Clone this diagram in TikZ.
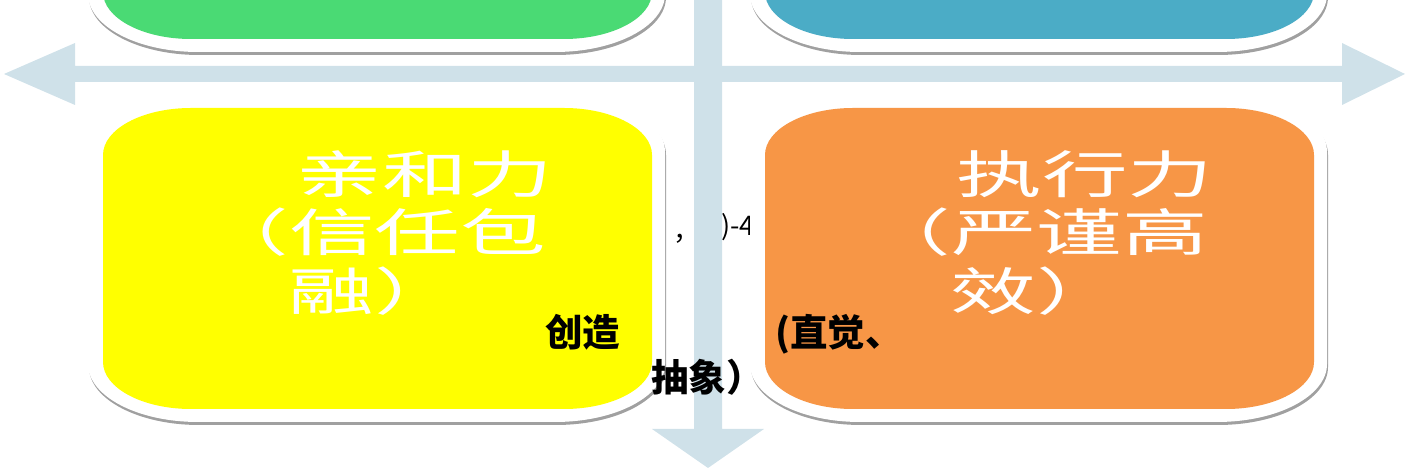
\documentclass[tikz,border=0pt]{standalone}
\usepackage{fontspec}
\setmainfont{Liberation Sans}
\newfontfamily\cjk{Noto Sans CJK SC}
\definecolor{arrowc}{RGB}{207,225,233}
\definecolor{shadowc}{RGB}{160,160,160}
\definecolor{qgreen}{RGB}{74,218,116}
\definecolor{qblue}{RGB}{75,172,198}
\definecolor{qyellow}{RGB}{255,255,0}
\definecolor{qorange}{RGB}{247,150,70}
% rounded rectangle with elliptical corners: left, bottom, right, top, rx, ry
\newcommand{\rrpath}[6]{(#1+#5,#2) -- (#3-#5,#2) arc[start angle=-90,end angle=0,x radius=#5pt,y radius=#6pt] -- (#3,#4-#6) arc[start angle=0,end angle=90,x radius=#5pt,y radius=#6pt] -- (#1+#5,#4) arc[start angle=90,end angle=180,x radius=#5pt,y radius=#6pt] -- (#1,#2+#6) arc[start angle=180,end angle=270,x radius=#5pt,y radius=#6pt] -- cycle}
\newcommand{\qbox}[3]{%
  \fill[shadowc] \rrpath{#1-14}{#2-16}{#1+563}{#2+312}{110}{58};
  \fill[white] \rrpath{#1-15}{#2-13}{#1+562}{#2+315}{110}{58};
  \fill[#3] \rrpath{#1}{#2}{#1+549}{#2+301}{88}{47};
}
\begin{document}
\begin{tikzpicture}[x=1pt,y=1pt,
  whitetxt/.style={font=\cjk\fontsize{51}{51}\selectfont, text=white, inner sep=0pt, xscale=1.68, anchor=base west},
  blacktxt/.style={font=\cjk\bfseries\fontsize{37.5}{37.5}\selectfont, text=black, inner sep=0pt, anchor=base west},
  hidtxt/.style={font=\cjk\fontsize{27}{27}\selectfont, text=black, inner sep=0pt, anchor=base west}]
\useasboundingbox (0,0) rectangle (1407,470);
\clip (0,0) rectangle (1407,470);
% text partly hidden behind the axis and box
\node[hidtxt] (h1) at (673,229) {，};
\node[hidtxt] (h2) at (721,234) {)-4};
% axes
\fill[arrowc] (4,396) -- (75,427) -- (75,404) -- (1342,404) -- (1342,427) -- (1405,396)
  -- (1342,365) -- (1342,388) -- (75,388) -- (75,365) -- cycle;
\fill[arrowc] (694,470) -- (722,470) -- (722,41) -- (764,41) -- (708,2) -- (652,41) -- (694,41) -- cycle;
% quadrant boxes
\qbox{103}{431}{qgreen}
\qbox{765}{431}{qblue}
\qbox{103}{61}{qyellow}
\qbox{765}{61}{qorange}
% texts
\node[whitetxt] (y1) at (296,276.5) {亲和力};
\node[whitetxt] (y2) at (203,218.5) {（信任包};
\node[whitetxt] (y3) at (288,159) {融）};
\node[whitetxt] (o1) at (956,276.5) {执行力};
\node[whitetxt] (o2) at (865,218.5) {（严谨高};
\node[whitetxt] (o3) at (950,159) {效）};
\node[blacktxt] (c1) at (545,123) {创造};
\node[blacktxt] (c2) at (775,123) {(直觉、};
\node[blacktxt] (c3) at (651,78) {抽象）};
\end{tikzpicture}
\end{document}
